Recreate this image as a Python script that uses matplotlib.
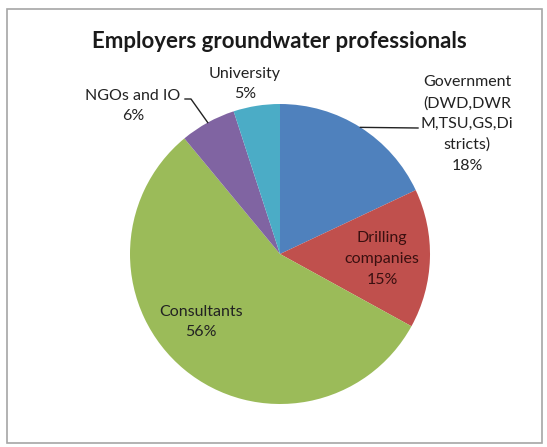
import matplotlib.pyplot as plt
import numpy as np
from matplotlib.patches import Rectangle

labels = ['Government\n(DWD,DWR\nM,TSU,GS,Di\nstricts)', 'Drilling\ncompanies', 'Consultants', 'NGOs and IO', 'University']
values = [18, 15, 56, 6, 5]
colors = ['#4F81BD', '#C0504D', '#9BBB59', '#8064A2', '#4BACC6']

W, H = 547, 447
plt.rcParams['font.family'] = ['Lato', 'DejaVu Sans']

fig = plt.figure(figsize=(W / 100, H / 100), dpi=100)

# pie drawn in its own axes so the y axis is not flipped
pax = fig.add_axes([0, 0, 1, 1], zorder=1)
cx, cy, r = 280, 254, 150
wedges, _ = pax.pie(values, colors=colors, startangle=90, counterclock=False,
                    center=(cx, H - cy), radius=r, frame=True,
                    wedgeprops=dict(linewidth=0))
pax.set_xlim(0, W)
pax.set_ylim(0, H)
pax.set_aspect('equal')
pax.axis('off')

# overlay in pixel coordinates (y down) for text and leader lines
ax = fig.add_axes([0, 0, 1, 1], zorder=2)
ax.set_xlim(0, W)
ax.set_ylim(H, 0)
ax.patch.set_alpha(0)
ax.axis('off')

ax.add_patch(Rectangle((7, 9), 535, 434, fill=False, edgecolor='#a6a6a6', lw=1.2))
ax.text(279, 42, 'Employers groundwater professionals', ha='center', va='center',
        fontsize=16, fontweight='bold', color='#1a1a1a')

def edge_point(i):
    w = wedges[i]
    th = np.deg2rad((w.theta1 + w.theta2) / 2)
    return cx + r * np.cos(th), cy - r * np.sin(th)

pos = [(467, 124), (382, 259), (201, 322), (133, 106), (245, 84)]
txtcol = ['#222222', '#3a1010', '#222222', '#222222', '#222222']
for lab, v, (x, y), c in zip(labels, values, pos, txtcol):
    ax.text(x, y, f'{lab}\n{v}%', ha='center', va='center', fontsize=11.5,
            color=c, linespacing=1.6)

# leader lines
gx, gy = edge_point(0)
ax.plot([gx, 418], [gy, 128], color='#222222', lw=1)
nx, ny = edge_point(3)
ax.plot([185, 191, nx], [99, 99, ny], color='#222222', lw=1)

fig.savefig('out.png', dpi=100)
